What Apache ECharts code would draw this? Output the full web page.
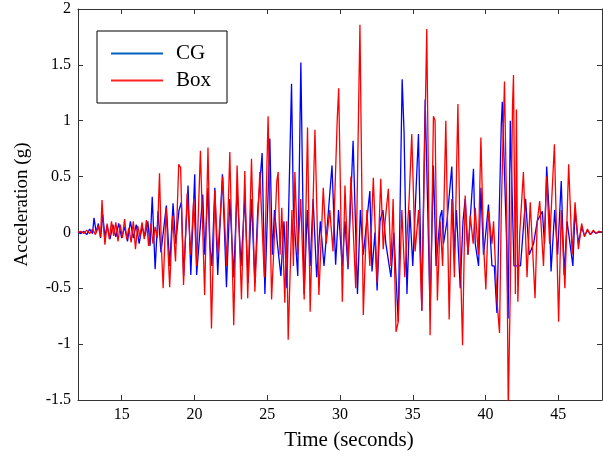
<!DOCTYPE html>
<html>
<head>
<meta charset="utf-8">
<script src="https://cdn.jsdelivr.net/npm/echarts@6/dist/echarts.min.js"></script>
<style>
html,body{margin:0;padding:0;background:#fff;}
#chart{width:603px;height:456px;}
</style>
</head>
<body>
<div id="chart"></div>
<script>
// Tick labels
var xTicks = [15, 20, 25, 30, 35, 40, 45];

// CG series (time in s, acceleration in g)
var cgTime = [12.00,12.20,12.40,12.60,12.80,13.00,13.10,13.25,13.40,13.55,13.70,13.85,14.00,14.20,14.40,14.60,14.80,15.00,15.20,15.40,15.60,15.80,16.00,16.20,16.40,16.60,16.80,16.95,17.10,17.30,17.50,17.70,18.07,18.30,18.53,18.71,18.94,19.10,19.26,19.56,19.75,20.02,20.15,20.57,20.71,20.93,21.05,21.20,21.40,21.60,21.92,22.20,22.43,22.70,22.93,23.20,23.46,23.69,23.92,24.15,24.35,24.65,24.84,25.18,25.35,25.50,25.70,25.94,26.15,26.35,26.67,26.80,27.10,27.31,27.54,27.75,27.95,28.15,28.40,28.65,28.90,29.15,29.45,29.70,29.90,30.15,30.34,30.55,30.90,31.20,31.40,31.60,32.05,32.20,32.40,32.55,32.75,32.95,33.15,33.50,33.70,34.00,34.27,34.40,34.60,34.80,35.00,35.39,35.62,35.85,36.19,36.42,36.60,36.88,37.00,37.11,37.35,37.68,37.86,38.00,38.26,38.45,38.60,38.79,39.17,39.29,39.52,39.68,39.86,40.02,40.20,40.44,40.60,40.78,41.08,41.15,41.45,41.55,41.70,41.95,42.40,42.75,43.00,43.30,43.55,43.90,44.05,44.20,44.40,44.50,44.75,44.95,45.20,45.40,45.60,46.00,46.15,46.38,46.60,46.80,47.00,47.20,47.40,47.60,47.80,48.00];
var cgAccel = [0.00,-0.01,0.01,-0.02,0.03,-0.01,0.13,0.00,0.08,-0.05,0.16,-0.04,0.06,-0.06,0.07,-0.04,0.08,-0.05,0.05,-0.08,0.10,-0.05,0.07,-0.10,0.05,-0.03,0.10,-0.12,0.32,-0.33,0.19,-0.18,0.24,-0.30,0.26,-0.10,0.20,0.27,-0.39,0.42,-0.38,0.52,-0.38,0.34,-0.20,0.40,-0.10,-0.30,0.40,-0.38,0.52,-0.49,0.30,-0.40,0.40,-0.30,0.31,-0.45,0.30,-0.45,0.20,0.71,-0.55,0.84,-0.20,0.20,-0.10,-0.39,0.10,-0.50,1.33,0.20,-0.39,1.52,-0.55,0.20,-0.30,0.30,-0.40,0.10,-0.30,0.10,0.60,-0.29,0.20,-0.30,0.10,-0.33,0.82,-0.55,0.20,-0.20,0.37,-0.35,0.00,-0.52,0.10,0.20,-0.10,-0.40,0.00,-0.80,1.37,0.90,-0.55,0.20,-0.30,0.88,-0.70,1.19,-0.70,0.60,-0.30,0.14,0.20,-0.10,0.10,0.59,-0.20,0.20,-0.50,0.10,0.30,-0.20,0.57,-0.10,-0.30,0.40,-0.20,0.00,0.25,-0.30,-0.30,-0.72,0.96,1.17,-0.10,-0.77,1.00,-0.30,-0.30,0.30,-0.20,-0.10,0.10,0.19,-0.10,0.59,0.10,-0.35,0.20,-0.20,0.46,-0.38,0.10,-0.30,0.20,-0.10,0.05,-0.03,0.02,-0.02,0.01,-0.01,0.01,0.00];

// Box series (time in s, acceleration in g)
var boxTime = [12.00,12.20,12.40,12.60,12.80,13.00,13.20,13.40,13.55,13.65,13.75,13.85,14.00,14.15,14.30,14.45,14.60,14.75,14.90,15.05,15.20,15.35,15.50,15.65,15.80,15.95,16.10,16.25,16.40,16.55,16.70,16.85,17.00,17.15,17.30,17.45,17.60,17.72,17.85,18.05,18.30,18.50,18.70,18.92,19.05,19.25,19.50,19.75,19.95,20.15,20.41,20.70,20.93,21.17,21.40,21.60,21.95,22.20,22.43,22.70,22.93,23.23,23.46,23.66,23.92,24.15,24.49,24.80,25.06,25.30,25.66,25.75,25.88,26.00,26.21,26.33,26.44,26.70,26.80,26.90,27.10,27.30,27.54,27.77,27.95,28.28,28.55,28.85,29.05,29.30,29.52,29.81,29.91,30.16,30.34,30.55,30.75,31.08,31.37,31.60,31.85,32.05,32.29,32.55,32.80,32.97,33.10,33.32,33.50,33.65,33.85,34.00,34.25,34.45,34.75,34.93,35.16,35.40,35.62,35.96,36.19,36.42,36.53,36.69,36.88,37.05,37.27,37.50,37.68,37.86,38.10,38.26,38.42,38.60,38.79,38.95,39.15,39.29,39.50,39.68,39.86,40.02,40.20,40.44,40.55,40.78,40.96,41.08,41.30,41.45,41.56,41.70,41.85,41.92,42.05,42.12,42.22,42.35,42.60,42.85,43.07,43.40,43.55,43.72,43.98,44.20,44.40,44.73,45.02,45.20,45.45,45.71,45.95,46.15,46.38,46.60,46.80,47.00,47.20,47.40,47.60,47.80,48.00];
var boxAccel = [0.00,0.01,-0.01,0.02,-0.01,0.03,-0.02,0.06,-0.04,0.29,0.05,-0.11,0.08,-0.06,0.10,-0.03,0.09,-0.08,0.07,-0.05,0.12,-0.06,0.04,-0.09,0.10,-0.15,0.06,-0.04,0.09,-0.06,0.11,-0.12,0.08,-0.10,0.05,-0.05,0.53,-0.10,-0.50,0.22,-0.49,0.15,-0.26,0.61,0.58,-0.47,0.35,-0.20,0.30,-0.30,0.73,-0.56,0.76,-0.86,0.38,-0.20,0.50,-0.30,0.72,-0.83,0.60,-0.60,0.55,-0.59,0.66,-0.53,0.54,-0.40,1.04,-0.60,0.46,0.54,-0.20,0.22,-0.63,0.10,-0.96,0.20,-0.30,0.54,-0.20,0.30,-0.60,0.94,-0.71,0.92,-0.56,0.40,-0.10,0.20,-0.17,1.01,1.29,-0.62,0.42,-0.30,0.50,-0.50,1.86,-0.74,0.20,-0.30,0.49,-0.45,0.48,-0.15,0.10,0.39,-0.30,0.30,-0.89,-0.80,0.20,-0.40,0.30,0.88,-0.17,0.20,-0.70,1.82,-0.92,1.04,1.00,-0.61,0.10,-0.30,1.00,-0.78,0.30,-0.40,1.15,-0.20,-1.01,0.33,-0.20,0.15,-0.10,0.22,-0.20,0.85,-0.10,-0.51,0.19,-0.10,0.10,-0.60,-0.90,0.20,1.35,0.20,-1.60,-0.50,1.12,1.41,-0.55,1.10,-0.62,0.00,0.54,-0.40,0.27,-0.59,0.10,0.28,-0.30,0.50,-0.10,0.79,-0.80,0.20,-0.50,0.61,-0.20,0.27,-0.15,0.08,-0.04,0.03,-0.02,0.02,-0.01,0.01,0.00];

function pairs(t, v) { var out = []; for (var i = 0; i < t.length; i++) out.push([t[i], v[i]]); return out; }

var FONT = 'Liberation Serif';
var chart = echarts.init(document.getElementById('chart'), null, {renderer: 'canvas'});
var axisLineStyle = {show: true, onZero: false, lineStyle: {color: '#333', width: 1}};
chart.setOption({
  animation: false,
  backgroundColor: '#fff',
  grid: {left: 78, right: 1, top: 9, bottom: 53, containLabel: false},
  legend: {
    left: 97, top: 31, orient: 'vertical',
    backgroundColor: '#fff', borderColor: '#000', borderWidth: 1,
    padding: [12, 16, 12, 14], itemWidth: 52, itemHeight: 2, itemGap: 6,
    icon: 'rect',
    textStyle: {fontFamily: FONT, fontSize: 21, color: '#000', lineHeight: 20, padding: [0, 0, 0, 8]},
    data: [{name: 'CG', itemStyle: {color: '#0060c0'}}, {name: 'Box', itemStyle: {color: '#ff2020'}}]
  },
  xAxis: [{
    type: 'value', min: 12, max: 48,
    axisLine: axisLineStyle,
    axisTick: {show: true, inside: true, length: 5, customValues: xTicks, lineStyle: {color: '#333'}},
    axisLabel: {customValues: xTicks, fontFamily: FONT, fontSize: 16, color: '#000', margin: 7},
    splitLine: {show: false},
    name: 'Time (seconds)', nameLocation: 'middle', nameGap: 30,
    nameTextStyle: {fontFamily: FONT, fontSize: 21, color: '#000', padding: [0, 0, 0, 18]}
  }, {
    type: 'value', position: 'top', min: 12, max: 48,
    axisLine: axisLineStyle,
    axisTick: {show: true, inside: true, length: 5, customValues: xTicks, lineStyle: {color: '#333'}},
    axisLabel: {show: false, customValues: xTicks},
    splitLine: {show: false}
  }],
  yAxis: [{
    type: 'value', min: -1.5, max: 2, interval: 0.5,
    axisLine: axisLineStyle,
    axisTick: {show: true, inside: true, length: 5, lineStyle: {color: '#333'}},
    axisLabel: {fontFamily: FONT, fontSize: 16, color: '#000', margin: 7},
    splitLine: {show: false},
    name: 'Acceleration (g)', nameLocation: 'middle', nameGap: 46,
    nameTextStyle: {fontFamily: FONT, fontSize: 19, color: '#000'}
  }, {
    type: 'value', position: 'right', min: -1.5, max: 2, interval: 0.5,
    axisLine: axisLineStyle,
    axisTick: {show: true, inside: true, length: 5, lineStyle: {color: '#333'}},
    axisLabel: {show: false},
    splitLine: {show: false}
  }],
  series: [{
    name: 'CG', type: 'line', xAxisIndex: 0, yAxisIndex: 0,
    data: pairs(cgTime, cgAccel), showSymbol: false, symbol: 'none',
    lineStyle: {color: '#0000ff', width: 1.3}, itemStyle: {color: '#0000ff'}
  }, {
    name: 'Box', type: 'line', xAxisIndex: 0, yAxisIndex: 0,
    data: pairs(boxTime, boxAccel), showSymbol: false, symbol: 'none',
    lineStyle: {color: '#ff0000', width: 1.3}, itemStyle: {color: '#ff0000'}
  }]
});
</script>
</body>
</html>
